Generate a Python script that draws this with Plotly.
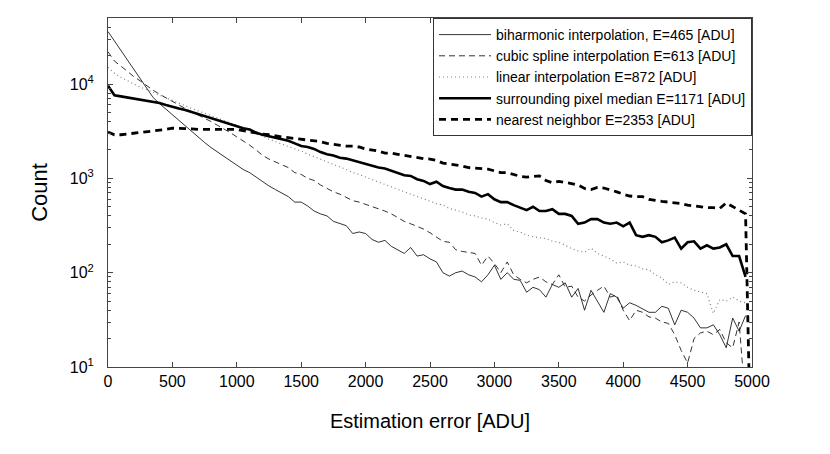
import plotly.graph_objects as go

# Bin positions (ADU)
error_adu = list(range(0, 5001, 50))

biharmonic = [36000, 28500, 22500, 17800, 14200, 11300, 9000, 7200, 6200, 5400,
              4700, 4100, 3600, 3150, 2750, 2400, 2120, 1900, 1700, 1520,
              1380, 1240, 1150, 1030, 920, 830, 760, 690, 640, 560,
              560, 510, 450, 420, 400, 350, 330, 315, 260, 270,
              260, 225, 210, 220, 190, 175, 160, 185, 150, 155,
              140, 130, 100, 92, 100, 104, 95, 90, 80, 95,
              120, 85, 100, 85, 83, 62, 70, 66, 55, 75,
              70, 78, 55, 68, 40, 65, 50, 38, 60, 55,
              42, 48, 45, 41, 38, 38, 44, 42, 28, 40,
              38, 33, 26, 26, 28, 22, 16, 33, 24, 35,
              None]

cubic_spline = [22000, 17500, 15500, 13500, 12000, 10800, 9600, 8600, 7800, 7100,
                6500, 6000, 5500, 5100, 4700, 4350, 4000, 3650, 3350, 3050,
                2750, 2500, 2250, 2000, 1750, 1600, 1500, 1400, 1300, 1150,
                1100, 1000, 950, 850, 780, 720, 680, 630, 580, 560,
                530, 500, 480, 450, 420, 380, 350, 330, 310, 290,
                265, 240, 215, 210, 175, 168, 165, 160, 120, 150,
                125, 100, 130, 95, 85, 78, 85, 90, 80, 75,
                95, 70, 72, 55, 50, 58, 65, 72, 55, 58,
                40, 31, 40, 38, 34, 33, 30, 29, 22, 15,
                11, 20, 23, 24, 22, 25, 18, 16, 30, 4,
                None]

linear = [15000, 13000, 11800, 10800, 10000, 9300, 8700, 8100, 7600, 7100,
          6700, 6300, 5900, 5500, 5200, 4900, 4650, 4400, 4150, 3900,
          3650, 3400, 3200, 3000, 2800, 2600, 2450, 2300, 2150, 2050,
          1950, 1800, 1700, 1600, 1500, 1400, 1320, 1240, 1150, 1100,
          1030, 970, 900, 860, 800, 760, 720, 680, 640, 600,
          570, 540, 520, 480, 460, 440, 410, 400, 380, 370,
          340, 320, 330, 280, 270, 250, 240, 235, 230, 215,
          210, 195, 180, 170, 165, 182, 160, 150, 140, 126,
          130, 120, 118, 110, 107, 95, 88, 75, 80, 78,
          70, 65, 62, 60, 37, 52, 50, 55, 50, 48,
          None]

median = [9600, 7600, 7400, 7200, 7000, 6900, 6700, 6500, 6300, 6000,
          5700, 5500, 5300, 5050, 4800, 4600, 4300, 4150, 3950, 3750,
          3550, 3400, 3300, 3050, 2900, 2800, 2700, 2600, 2500, 2350,
          2200, 2150, 2050, 1900, 1800, 1750, 1650, 1620, 1550, 1500,
          1420, 1350, 1300, 1270, 1200, 1150, 1080, 1060, 980, 940,
          870, 920, 830, 790, 760, 760, 720, 700, 640, 680,
          600, 560, 560, 520, 490, 460, 500, 450, 450, 470,
          420, 420, 400, 330, 340, 370, 370, 340, 330, 340,
          310, 340, 250, 240, 250, 240, 210, 220, 235, 180,
          210, 215, 180, 195, 180, 185, 200, 150, 150, 90,
          None]

nearest = [3100, 2900, 2900, 2950, 3000, 3050, 3100, 3150, 3200, 3300,
           3400, 3400, 3350, 3350, 3300, 3300, 3300, 3350, 3300, 3350,
           3300, 3200, 3100, 3000, 2950, 2900, 2800, 2750, 2700, 2650,
           2600, 2550, 2500, 2450, 2350, 2300, 2250, 2200, 2200, 2150,
           2050, 2000, 1950, 1850, 1850, 1800, 1750, 1720, 1650, 1620,
           1600, 1550, 1450, 1420, 1400, 1350, 1300, 1280, 1260, 1250,
           1200, 1150, 1150, 1100, 1050, 1030, 1050, 1060, 950, 900,
           930, 910, 880, 850, 780, 760, 800, 790, 760, 720,
           680, 650, 640, 640, 600, 580, 570, 560, 550, 540,
           520, 510, 500, 490, 490, 480, 550, 500, 460, 420,
           0.3]

names = ["biharmonic interpolation, E=465 [ADU]",
         "cubic spline interpolation E=613 [ADU]",
         "linear interpolation E=872 [ADU]",
         "surrounding pixel median E=1171 [ADU]",
         "nearest neighbor E=2353 [ADU]"]

styles = [dict(color="black", width=0.8, dash="solid"),
          dict(color="black", width=0.8, dash="6px,4px"),
          dict(color="#808080", width=1.2, dash="1px,3px"),
          dict(color="black", width=2.6, dash="solid"),
          dict(color="black", width=2.8, dash="7px,5px")]

fig = go.Figure()
for ys, nm, st in zip([biharmonic, cubic_spline, linear, median, nearest], names, styles):
    fig.add_trace(go.Scatter(x=error_adu, y=ys, mode="lines", name=nm, line=st,
                             connectgaps=False))

font_family = "Liberation Sans, Arial, sans-serif"
minor_vals = [m * 10 ** e for e in range(1, 5) for m in range(2, 10)]

fig.update_layout(
    width=830, height=454,
    margin=dict(l=108, r=78, t=18, b=87),
    paper_bgcolor="white", plot_bgcolor="white",
    font=dict(family=font_family, color="black"),
    showlegend=True,
    legend=dict(x=1, y=1, xanchor="right", yanchor="top",
                bgcolor="white", bordercolor="#333", borderwidth=1,
                font=dict(size=14, family=font_family),
                tracegroupgap=0, itemwidth=52),
)
fig.update_xaxes(
    range=[0, 5000], tickvals=list(range(0, 5001, 500)),
    ticks="inside", ticklen=5, tickcolor="#444",
    showline=True, linecolor="#444", linewidth=1, mirror="allticks",
    showgrid=False, zeroline=False,
    tickfont=dict(size=16),
    title=dict(text="Estimation error [ADU]", font=dict(size=20), standoff=24),
)
fig.update_yaxes(
    type="log", range=[1, 4.7],
    tickvals=[10, 100, 1000, 10000],
    ticktext=["10<sup>1</sup>", "10<sup>2</sup>", "10<sup>3</sup>", "10<sup>4</sup>"],
    ticks="inside", ticklen=5, tickcolor="#444",
    minor=dict(tickvals=minor_vals, ticks="inside", ticklen=3, tickcolor="#444", showgrid=False),
    showline=True, linecolor="#444", linewidth=1, mirror="allticks",
    showgrid=False, zeroline=False,
    tickfont=dict(size=16), ticklabelstandoff=10,
    title=dict(text="Count", font=dict(size=22), standoff=16),
)
fig.write_html("out.html", config={"displayModeBar": False},
               post_script="document.body.style.margin='0';")
